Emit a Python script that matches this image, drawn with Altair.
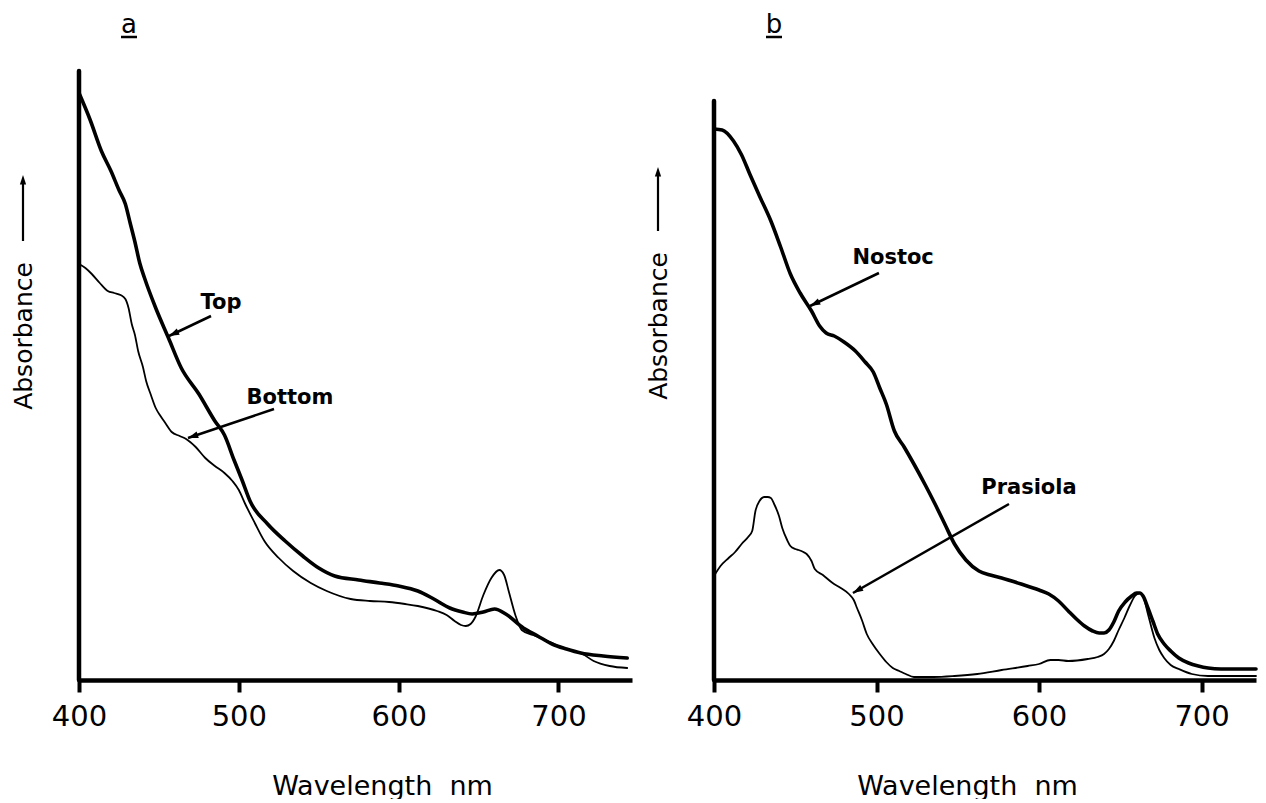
import altair as alt
import pandas as pd

FONT = "DejaVu Sans"
X_TICKS = [400, 500, 600, 700]
Y_MAX = 6.09
X_TITLE = "Wavelength\u00a0\u00a0nm"

# ---------------- panel a ----------------
a_top_nm = [400, 407, 414, 420, 425, 429, 432, 435, 438, 441, 448, 456, 464, 475, 485, 491, 497, 502, 507,
            518, 529, 540, 550, 560, 575, 588, 600, 612, 622, 632, 640, 646, 653, 660, 667, 678, 687, 696,
            705, 714, 728, 743]
a_top_abs = [5.87, 5.60, 5.29, 5.09, 4.90, 4.76, 4.57, 4.38, 4.17, 4.02, 3.72, 3.42, 3.12, 2.86, 2.59, 2.45,
             2.20, 2.00, 1.79, 1.56, 1.39, 1.24, 1.12, 1.04, 1.00, 0.97, 0.94, 0.89, 0.81, 0.72, 0.68, 0.66,
             0.68, 0.71, 0.66, 0.52, 0.44, 0.36, 0.31, 0.27, 0.24, 0.22]

a_bot_nm = [400, 404, 408, 413, 418, 422, 426, 429, 431, 433, 435, 437, 440, 442, 445, 448, 451, 454, 458,
            463, 467, 473, 479, 485, 491, 496, 500, 504, 510, 516, 525, 534, 545, 555, 570, 582, 594, 604,
            612, 624, 630, 635, 639, 642, 645, 648, 653, 658, 663, 666, 669, 673, 677, 684, 692, 700, 709,
            715, 722, 732, 743]
a_bot_abs = [4.16, 4.12, 4.06, 3.97, 3.89, 3.87, 3.85, 3.81, 3.72, 3.56, 3.45, 3.29, 3.13, 2.99, 2.85, 2.72,
             2.64, 2.57, 2.48, 2.44, 2.41, 2.33, 2.22, 2.14, 2.07, 1.99, 1.90, 1.76, 1.57, 1.39, 1.22, 1.09,
             0.97, 0.89, 0.81, 0.79, 0.78, 0.76, 0.74, 0.69, 0.65, 0.59, 0.55, 0.54, 0.56, 0.63, 0.85, 1.02,
             1.10, 1.05, 0.88, 0.65, 0.50, 0.45, 0.40, 0.34, 0.29, 0.26, 0.19, 0.14, 0.12]

# ---------------- panel b ----------------
b_nos_nm = [400, 405, 412, 417, 422, 428, 435, 441, 447, 453, 460, 465, 469, 474, 480, 487, 493, 498, 502,
            506, 511, 517, 523, 530, 536, 542, 548, 555, 563, 570, 577, 589, 600, 606, 612, 618, 623, 628,
            633, 637, 640, 643, 646, 649, 653, 657, 660, 662, 664, 667, 670, 673, 677, 681, 686, 692, 698,
            704, 712, 720, 733.5]
b_nos_abs = [5.51, 5.50, 5.39, 5.25, 5.06, 4.84, 4.59, 4.33, 4.06, 3.87, 3.69, 3.54, 3.47, 3.44, 3.38, 3.29,
             3.18, 3.08, 2.92, 2.76, 2.49, 2.33, 2.16, 1.95, 1.76, 1.56, 1.36, 1.20, 1.09, 1.05, 1.02, 0.96,
             0.90, 0.86, 0.79, 0.69, 0.61, 0.54, 0.49, 0.47, 0.47, 0.50, 0.58, 0.69, 0.78, 0.84, 0.87, 0.87,
             0.84, 0.72, 0.59, 0.46, 0.36, 0.29, 0.22, 0.17, 0.14, 0.12, 0.11, 0.11, 0.11]

b_pra_nm = [400, 404, 409, 413, 417, 421, 423.5, 425.5, 428, 431, 433, 435, 437, 440, 442, 445, 447, 450,
            452, 455, 457, 460, 462, 467, 473, 478, 483, 486, 488, 491, 494, 498, 502, 506, 510, 514, 518,
            523, 535, 548, 562, 577, 593, 600, 607, 612, 618, 630, 636, 640, 643, 646, 649, 652.5, 656, 659,
            662, 664, 667, 671, 674, 677, 681, 686, 694, 704, 720, 733.5]
b_pra_abs = [1.04, 1.14, 1.22, 1.28, 1.36, 1.43, 1.49, 1.69, 1.79, 1.83, 1.83, 1.82, 1.76, 1.64, 1.52, 1.40,
             1.34, 1.31, 1.30, 1.28, 1.26, 1.19, 1.11, 1.05, 0.97, 0.92, 0.86, 0.80, 0.72, 0.60, 0.46, 0.35,
             0.26, 0.18, 0.12, 0.09, 0.06, 0.03, 0.03, 0.04, 0.06, 0.10, 0.14, 0.16, 0.20, 0.20, 0.19, 0.21,
             0.23, 0.26, 0.31, 0.39, 0.50, 0.62, 0.75, 0.84, 0.87, 0.84, 0.66, 0.42, 0.30, 0.22, 0.15, 0.11,
             0.06, 0.04, 0.04, 0.04]

# curve labels (text, nm, absorbance) and their arrows (tail nm/abs -> head nm/abs, head angle)
a_label_text = ["Top", "Bottom"]
a_label_nm = [488.9, 532.0]
a_label_abs = [3.71, 2.76]
a_arrow_nm = [482.6, 522.0]
a_arrow_abs = [3.64, 2.71]
a_arrow_nm2 = [456.3, 468.2]
a_arrow_abs2 = [3.44, 2.42]
a_arrow_ang = [154.5, 161.4]

b_label_text = ["Nostoc", "Prasiola"]
b_label_nm = [510.2, 593.8]
b_label_abs = [4.16, 1.86]
b_arrow_nm = [501.5, 581.5]
b_arrow_abs = [4.07, 1.76]
b_arrow_nm2 = [459.1, 485.5]
b_arrow_abs2 = [3.74, 0.87]
b_arrow_ang = [154.4, 150.3]

HEAD = "M0,0L-1,-0.33L-1,0.33Z"


def panel(curves, xmax, ytop, width, lab, arr, letter, letter_x, title_x, abs_y, arr_top, arr_bot):
    xscale = alt.Scale(domain=[400, xmax], nice=False, zero=False)
    yscale = alt.Scale(domain=[0, Y_MAX], nice=False, zero=False)
    xaxis = alt.Axis(values=X_TICKS, format="d", labelFlush=False, grid=False,
                     domainColor="black", domainWidth=4.5, domainCap="butt",
                     tickColor="black", tickWidth=4, tickSize=12,
                     labelFont=FONT, labelFontSize=29, labelColor="black", labelPadding=10,
                     title=X_TITLE, titleFont=FONT, titleFontSize=27,
                     titleFontWeight="normal", titleColor="black",
                     titleX=title_x, titleY=114, titleAlign="center",
                     titleBaseline="alphabetic", titleAngle=0)

    def X(f="nm"):
        return alt.X(f + ":Q", scale=xscale, axis=xaxis)

    def Y(f="absorbance"):
        return alt.Y(f + ":Q", scale=yscale, axis=None)

    layers = []
    for nm, ab, sw in curves:
        df = pd.DataFrame({"nm": nm, "absorbance": ab})
        layers.append(alt.Chart(df).mark_line(color="black", strokeWidth=sw, interpolate="monotone",
                                              strokeJoin="round", strokeCap="round")
                      .encode(x=X(), y=Y()))

    yline = pd.DataFrame({"nm": [400], "absorbance": [0], "top": [ytop]})
    layers.append(alt.Chart(yline).mark_rule(color="black", strokeWidth=4.5, strokeCap="round")
                  .encode(x=X(), y=Y(), y2="top:Q"))

    labdf = pd.DataFrame({"t": lab[0], "nm": lab[1], "absorbance": lab[2]})
    layers.append(alt.Chart(labdf).mark_text(font=FONT, fontSize=21, fontWeight="bold", color="black",
                                             align="center", baseline="alphabetic")
                  .encode(x=X(), y=Y(), text="t:N"))

    arrdf = pd.DataFrame({"nm": arr[0], "absorbance": arr[1], "nm2": arr[2], "abs2": arr[3],
                          "ang": arr[4]})
    layers.append(alt.Chart(arrdf).mark_rule(color="black", strokeWidth=2.5)
                  .encode(x=X(), y=Y(), x2="nm2:Q", y2="abs2:Q"))
    layers.append(alt.Chart(arrdf).mark_point(shape=HEAD, filled=True, color="black", opacity=1,
                                              size=420, strokeWidth=0)
                  .encode(x=X("nm2"), y=Y("abs2"), angle=alt.Angle("ang:Q", scale=None)))

    one = pd.DataFrame({"t": ["Absorbance"], "l": [letter]})
    layers.append(alt.Chart(one).mark_text(font=FONT, fontSize=25, color="black", angle=270,
                                           align="center", baseline="alphabetic")
                  .encode(x=alt.value(-47), y=alt.value(abs_y), text="t:N"))
    layers.append(alt.Chart(one).mark_rule(color="black", strokeWidth=2.2)
                  .encode(x=alt.value(-56), y=alt.value(arr_bot), y2=alt.value(arr_top + 6)))
    layers.append(alt.Chart(one).mark_point(shape=HEAD, filled=True, color="black", opacity=1,
                                            size=360, strokeWidth=0, angle=270)
                  .encode(x=alt.value(-56), y=alt.value(arr_top)))
    layers.append(alt.Chart(one).mark_text(font=FONT, fontSize=26, color="black",
                                           align="center", baseline="alphabetic")
                  .encode(x=alt.value(letter_x), y=alt.value(-38), text="l:N"))
    layers.append(alt.Chart(one).mark_rule(color="black", strokeWidth=2.5)
                  .encode(x=alt.value(letter_x - 8), x2=alt.value(letter_x + 8), y=alt.value(-34)))

    return alt.layer(*layers).properties(width=width, height=609)


pa = panel([(a_top_nm, a_top_abs, 3.6), (a_bot_nm, a_bot_abs, 1.8)], 746, Y_MAX, 553,
           (a_label_text, a_label_nm, a_label_abs),
           (a_arrow_nm, a_arrow_abs, a_arrow_nm2, a_arrow_abs2, a_arrow_ang),
           "a", 50, 303, 265, 104, 170)
pb = panel([(b_nos_nm, b_nos_abs, 3.6), (b_pra_nm, b_pra_abs, 1.8)], 733.5, 5.79, 542,
           (b_label_text, b_label_nm, b_label_abs),
           (b_arrow_nm, b_arrow_abs, b_arrow_nm2, b_arrow_abs2, b_arrow_ang),
           "b", 60, 253, 255, 96, 160)

chart = (alt.hconcat(pa, pb, spacing=82, bounds="flush")
         .properties(padding={"left": 4, "top": 4, "right": 0, "bottom": 0}, background="white")
         .configure_view(stroke=None))

chart.save("out.html", embed_options={"renderer": "svg", "actions": False})
